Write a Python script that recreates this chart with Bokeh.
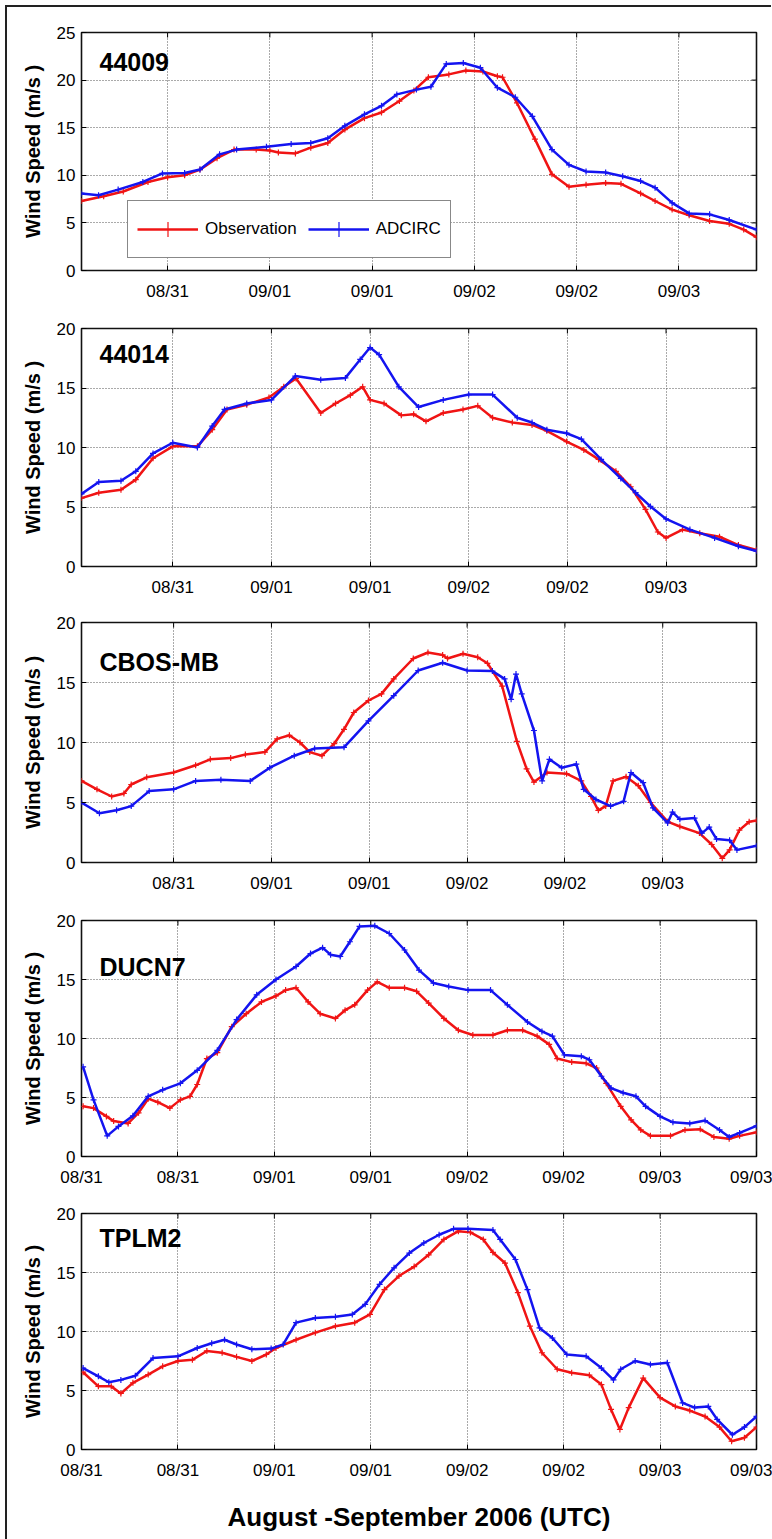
from bokeh.plotting import figure
from bokeh.models import Range1d, FixedTicker, Label, Legend, LegendItem, Div
from bokeh.layouts import column, row
from bokeh.embed import file_html
from bokeh.resources import INLINE

# x positions are hours after 08/31 00:00 UTC
TICK_HOURS = [0, 12, 24, 36, 48, 60, 72, 84]
TICK_LABELS = ["08/31", "08/31", "09/01", "09/01", "09/02", "09/02", "09/03", "09/03"]

# --- 44009 ---
OBS_44009_H = [1.9, 4.5, 6.8, 9.7, 12.0, 14.0, 15.8, 17.8, 19.8, 22.4, 24.0, 25.0, 27.0, 28.8, 30.8, 32.8,
               35.1, 37.1, 39.2, 40.9, 42.6, 45.0, 47.0, 49.0, 50.7, 51.3, 53.0, 55.1, 57.1, 59.1, 61.1,
               63.4, 65.2, 67.5, 69.2, 71.2, 73.2, 75.6, 77.9, 79.6, 81.1]
OBS_44009_V = [7.3, 7.8, 8.3, 9.3, 9.8, 10.0, 10.6, 11.8, 12.7, 12.7, 12.6, 12.4, 12.3, 12.9, 13.4, 14.8,
               16.0, 16.6, 17.8, 18.9, 20.3, 20.6, 21.0, 20.9, 20.4, 20.3, 17.6, 13.8, 10.1, 8.8, 9.0,
               9.2, 9.1, 8.1, 7.3, 6.4, 5.8, 5.2, 4.9, 4.3, 3.5]
MOD_44009_H = [1.9, 3.9, 6.2, 9.1, 11.4, 14.0, 15.8, 18.1, 20.1, 23.6, 26.5, 28.8, 30.8, 32.8, 35.1, 37.1,
               38.9, 41.2, 42.9, 44.7, 46.7, 48.7, 50.7, 52.8, 54.8, 57.1, 59.1, 61.1, 63.4, 65.4, 67.5,
               69.2, 71.2, 73.2, 75.6, 77.9, 81.1]
MOD_44009_V = [8.1, 7.9, 8.5, 9.3, 10.2, 10.25, 10.6, 12.2, 12.7, 13.0, 13.3, 13.4, 13.9, 15.2, 16.4, 17.3,
               18.5, 19.0, 19.3, 21.7, 21.8, 21.3, 19.2, 18.2, 16.2, 12.7, 11.1, 10.4, 10.3, 9.9, 9.4,
               8.7, 7.1, 6.0, 5.9, 5.3, 4.3]

# --- 44014 ---
OBS_44014_H = [0.9, 3.0, 5.7, 7.5, 9.6, 12.0, 15.0, 16.8, 18.6, 21.0, 23.7, 25.5, 27.0, 30.0, 31.8, 33.6,
               35.1, 36.0, 37.7, 39.8, 41.3, 42.8, 44.9, 47.3, 49.1, 50.9, 53.3, 55.7, 57.5, 59.9, 62.0,
               63.8, 65.9, 67.7, 69.5, 71.0, 72.0, 74.0, 76.1, 78.5, 80.8, 83.0]
OBS_44014_V = [5.75, 6.2, 6.45, 7.3, 9.1, 10.1, 10.1, 11.5, 13.2, 13.6, 14.2, 15.1, 15.8, 12.9, 13.7, 14.4,
               15.1, 14.0, 13.7, 12.7, 12.8, 12.2, 12.9, 13.2, 13.5, 12.5, 12.1, 11.9, 11.4, 10.5, 9.8,
               9.0, 8.0, 6.7, 4.8, 2.9, 2.4, 3.1, 2.8, 2.5, 1.8, 1.4]
MOD_44014_H = [0.9, 3.0, 5.7, 7.5, 9.6, 12.0, 15.0, 16.8, 18.3, 21.0, 24.0, 26.9, 30.0, 33.0, 34.8, 36.0,
               37.1, 39.5, 41.9, 44.9, 48.0, 50.9, 53.9, 55.7, 57.5, 59.9, 61.7, 64.1, 66.5, 68.3, 70.1,
               72.0, 74.9, 77.9, 80.8, 83.0]
MOD_44014_V = [6.1, 7.1, 7.2, 8.0, 9.5, 10.4, 10.0, 11.8, 13.2, 13.7, 14.0, 16.0, 15.7, 15.85, 17.4, 18.4,
               17.8, 15.1, 13.4, 14.0, 14.45, 14.45, 12.5, 12.1, 11.5, 11.2, 10.7, 9.0, 7.4, 6.2, 5.05,
               4.0, 3.1, 2.4, 1.7, 1.3]

# --- CBOS-MB ---
OBS_CBOS_H = [0.7, 2.6, 4.4, 5.9, 6.8, 8.7, 12.0, 14.7, 16.5, 19.0, 20.8, 23.2, 24.7, 26.2, 27.5, 28.7,
              30.2, 31.7, 32.9, 34.1, 35.9, 37.5, 39.0, 41.4, 43.2, 45.0, 45.6, 47.5, 49.3, 50.5, 52.3,
              54.1, 55.3, 56.2, 57.8, 60.2, 62.0, 63.2, 64.1, 65.0, 65.9, 67.5, 69.0, 70.5, 72.6, 74.1,
              76.5, 78.0, 79.3, 80.2, 81.4, 82.6, 83.5]
OBS_CBOS_V = [6.8, 6.1, 5.5, 5.75, 6.5, 7.1, 7.5, 8.1, 8.6, 8.7, 9.0, 9.2, 10.3, 10.6, 10.0, 9.2,
              8.9, 9.9, 11.1, 12.5, 13.5, 14.05, 15.3, 17.0, 17.5, 17.3, 17.0, 17.4, 17.1, 16.6, 14.7,
              10.1, 7.8, 6.7, 7.5, 7.4, 6.8, 5.5, 4.35, 4.7, 6.8, 7.15, 6.4, 5.0, 3.4, 3.0,
              2.45, 1.5, 0.35, 1.05, 2.7, 3.4, 3.5]
MOD_CBOS_H = [0.7, 2.9, 5.0, 6.8, 9.0, 12.0, 14.7, 17.8, 21.4, 23.8, 26.8, 29.3, 32.9, 35.9, 39.0, 42.0,
              45.0, 48.0, 51.1, 52.6, 53.4, 54.0, 54.7, 56.2, 57.2, 58.1, 59.6, 61.4, 62.3, 63.8, 65.6,
              67.2, 68.1, 69.6, 70.8, 72.6, 73.2, 74.1, 75.9, 76.8, 77.7, 78.6, 80.2, 81.1, 83.5]
MOD_CBOS_V = [5.0, 4.1, 4.35, 4.7, 5.95, 6.1, 6.8, 6.9, 6.8, 7.9, 8.9, 9.5, 9.6, 11.8, 13.9, 16.0,
              16.65, 16.0, 15.95, 15.3, 13.6, 15.7, 14.05, 11.0, 6.8, 8.6, 7.9, 8.2, 6.1, 5.25, 4.7,
              5.1, 7.5, 6.65, 4.55, 3.3, 4.2, 3.6, 3.7, 2.45, 2.95, 1.95, 1.85, 1.05, 1.4]

# --- DUCN7 ---
OBS_DUCN7_H = [0.2, 1.5, 3.1, 4.0, 5.8, 7.1, 8.3, 9.5, 11.0, 12.3, 13.5, 14.4, 15.6, 16.9, 18.7, 20.5,
               22.4, 24.2, 25.4, 26.7, 28.2, 29.7, 31.6, 32.8, 34.0, 35.6, 36.8, 38.3, 40.2, 41.7, 43.2,
               45.1, 46.9, 48.7, 51.2, 53.0, 54.9, 56.7, 58.2, 59.2, 61.0, 62.8, 64.1, 65.3, 67.1, 68.4,
               69.6, 70.8, 73.3, 75.1, 77.0, 78.7, 80.6, 81.9, 84.0]
OBS_DUCN7_V = [4.25, 4.1, 3.4, 3.0, 2.8, 3.7, 4.9, 4.6, 4.1, 4.8, 5.1, 6.1, 8.3, 8.8, 11.0, 12.1,
               13.1, 13.6, 14.1, 14.3, 13.1, 12.1, 11.7, 12.4, 12.85, 14.1, 14.8, 14.3, 14.3, 14.0, 13.0,
               11.7, 10.7, 10.3, 10.3, 10.7, 10.7, 10.2, 9.5, 8.3, 8.0, 7.9, 7.5, 6.2, 4.25, 3.1,
               2.25, 1.75, 1.75, 2.25, 2.3, 1.65, 1.5, 1.75, 2.05]
MOD_DUCN7_H = [0.2, 1.5, 3.2, 4.6, 6.4, 8.3, 10.1, 12.3, 14.4, 16.9, 19.3, 21.8, 24.2, 26.7, 28.5, 30.0,
               31.0, 32.2, 33.4, 34.6, 36.5, 38.3, 40.2, 42.0, 43.8, 45.7, 48.1, 50.9, 53.0, 55.5, 57.3,
               58.6, 60.1, 62.2, 63.2, 64.7, 65.9, 67.4, 69.0, 70.2, 72.0, 73.6, 75.7, 77.6, 79.4, 80.6,
               81.9, 84.0]
MOD_DUCN7_V = [7.6, 4.8, 1.75, 2.55, 3.45, 5.1, 5.65, 6.2, 7.3, 9.0, 11.6, 13.7, 15.0, 16.1, 17.2, 17.7,
               17.1, 16.95, 18.2, 19.5, 19.55, 18.9, 17.5, 15.8, 14.7, 14.4, 14.1, 14.1, 12.85, 11.4, 10.6,
               10.2, 8.6, 8.5, 8.2, 6.8, 5.8, 5.4, 5.1, 4.25, 3.4, 2.9, 2.8, 3.05, 2.25, 1.65,
               2.0, 2.6]

# --- TPLM2 ---
OBS_TPLM2_H = [0.2, 2.1, 3.7, 4.9, 6.4, 8.3, 10.1, 12.0, 13.8, 15.6, 17.5, 19.3, 21.2, 23.0, 24.2, 26.7,
               29.1, 31.6, 34.0, 35.9, 37.7, 39.5, 41.4, 43.2, 45.1, 46.9, 48.4, 50.0, 51.2, 52.7, 54.3,
               55.8, 57.3, 59.2, 61.0, 63.2, 64.7, 65.9, 67.0, 68.1, 69.9, 72.0, 73.9, 75.7, 77.6, 79.4,
               80.9, 82.5, 84.0]
OBS_TPLM2_V = [6.55, 5.35, 5.35, 4.75, 5.65, 6.35, 7.05, 7.5, 7.6, 8.35, 8.2, 7.85, 7.5, 8.05, 8.6, 9.3,
               9.9, 10.45, 10.75, 11.45, 13.55, 14.7, 15.5, 16.5, 17.8, 18.5, 18.4, 17.8, 16.7, 15.8, 13.3,
               10.45, 8.2, 6.8, 6.5, 6.3, 5.5, 3.4, 1.7, 3.55, 6.05, 4.4, 3.65, 3.3, 2.8, 1.9,
               0.7, 1.0, 1.9]
MOD_TPLM2_H = [0.2, 2.1, 3.4, 4.9, 6.7, 8.9, 12.0, 14.4, 16.2, 17.8, 19.3, 21.2, 23.6, 25.1, 26.7, 29.1,
               31.6, 33.7, 35.3, 37.1, 38.9, 40.8, 42.6, 44.5, 46.3, 48.1, 51.2, 52.1, 54.0, 55.5, 57.0,
               58.6, 60.4, 62.8, 64.7, 66.2, 67.1, 68.9, 70.8, 72.9, 74.8, 76.3, 78.0, 79.1, 81.0, 82.5,
               84.0]
MOD_TPLM2_V = [6.9, 6.2, 5.7, 5.9, 6.25, 7.75, 7.9, 8.6, 9.0, 9.3, 8.9, 8.5, 8.55, 8.9, 10.75, 11.15,
               11.25, 11.45, 12.3, 14.0, 15.4, 16.65, 17.5, 18.2, 18.7, 18.7, 18.6, 17.8, 16.1, 13.55, 10.3,
               9.45, 8.05, 7.9, 6.9, 5.9, 6.8, 7.5, 7.2, 7.35, 3.95, 3.55, 3.65, 2.55, 1.25, 1.9,
               2.8]

RED = "#f01414"
BLUE = "#1414f0"
SANS = "Liberation Sans"

FIG_W = 764
LEFT, RIGHT = 73, 16
FRAME_W = FIG_W - LEFT - RIGHT
TICK_LEN = 5  # px, inward ticks on every side of the box


def panel(station, x0, x1, ymax, obs_h, obs_v, mod_h, mod_v, height, top, bottom,
          label_dy, legend=False, xlabel=None):
    p = figure(width=FIG_W, height=height, x_range=Range1d(x0, x1), y_range=Range1d(0, ymax),
               output_backend="svg", toolbar_location=None,
               min_border_left=LEFT, min_border_right=RIGHT,
               min_border_top=top, min_border_bottom=bottom,
               background_fill_color="white", border_fill_color="white")
    frame_h = height - top - bottom
    px_per_h = FRAME_W / (x1 - x0)
    px_per_v = frame_h / ymax

    p.outline_line_color = "#111111"
    p.outline_line_width = 1.6
    p.outline_line_alpha = 1.0

    y_ticks = list(range(0, ymax + 1, 5))
    xa = p.below[0]
    ya = p.left[0]
    xa.ticker = FixedTicker(ticks=TICK_HOURS)
    xa.major_label_overrides = {h: t for h, t in zip(TICK_HOURS, TICK_LABELS)}
    ya.ticker = FixedTicker(ticks=y_ticks)

    for ax in (xa, ya):
        ax.axis_line_color = None
        ax.major_tick_in = TICK_LEN
        ax.major_tick_out = 0
        ax.major_tick_line_color = "black"
        ax.minor_tick_line_color = None
        ax.major_label_text_font = SANS
        ax.major_label_text_font_size = "17px"
        ax.major_label_text_color = "black"
    xa.major_label_standoff = 11
    ya.major_label_standoff = 6

    ya.axis_label = "Wind Speed (m/s )"
    ya.axis_label_text_font = SANS
    ya.axis_label_text_font_style = "bold"
    ya.axis_label_text_font_size = "20px"
    ya.axis_label_text_color = "black"
    ya.axis_label_standoff = 10

    if xlabel:
        xa.axis_label = xlabel
        xa.axis_label_text_font = SANS
        xa.axis_label_text_font_style = "bold"
        xa.axis_label_text_font_size = "26px"
        xa.axis_label_text_color = "black"
        xa.axis_label_standoff = 19

    p.grid.grid_line_color = "#555555"
    p.grid.grid_line_dash = "1 2"
    p.grid.grid_line_width = 1

    # inward ticks along the top and right edges of the box
    xt = [h for h in TICK_HOURS if x0 < h < x1]
    p.segment(x0=xt, y0=[ymax] * len(xt), x1=xt, y1=[ymax - TICK_LEN / px_per_v] * len(xt),
              line_color="black", line_width=1)
    yt = y_ticks[1:-1]
    p.segment(x0=[x1] * len(yt), y0=yt, x1=[x1 - TICK_LEN / px_per_h] * len(yt), y1=yt,
              line_color="black", line_width=1)

    # each series: a line with small '+' marks at the samples
    r_obs = p.line(obs_h, obs_v, line_color=RED, line_width=2.5)
    m_obs = p.scatter(obs_h, obs_v, marker="cross", size=6, line_color=RED, line_width=1.2)
    r_mod = p.line(mod_h, mod_v, line_color=BLUE, line_width=2.5)
    m_mod = p.scatter(mod_h, mod_v, marker="cross", size=6, line_color=BLUE, line_width=1.2)

    p.add_layout(Label(x=x0 + 18 / px_per_h, y=ymax - label_dy / px_per_v, text=station,
                       text_font=SANS, text_font_style="bold", text_font_size="25px",
                       text_color="black", text_baseline="middle", text_align="left"))

    if legend:
        lg = Legend(items=[LegendItem(label="Observation", renderers=[r_obs, m_obs]),
                           LegendItem(label="ADCIRC", renderers=[r_mod, m_mod])],
                    location=(46, 12), orientation="horizontal",
                    glyph_width=61, glyph_height=38, label_height=38,
                    label_text_font=SANS, label_text_font_size="17px",
                    label_text_color="black",
                    padding=9, spacing=11, label_standoff=7, margin=0,
                    border_line_color="#111111", border_line_width=1.8,
                    background_fill_color="white", background_fill_alpha=1.0)
        p.add_layout(lg)
    return p


figs = [
    panel("44009", 1.9, 81.1, 25, OBS_44009_H, OBS_44009_V, MOD_44009_H, MOD_44009_V,
          297, 25, 34, 29, legend=True),
    panel("44014", 0.9, 83.0, 20, OBS_44014_H, OBS_44014_V, MOD_44014_H, MOD_44014_V,
          295, 24, 33, 25),
    panel("CBOS-MB", 0.7, 83.5, 20, OBS_CBOS_H, OBS_CBOS_V, MOD_CBOS_H, MOD_CBOS_V,
          298, 23, 35, 39),
    panel("DUCN7", 0.0, 84.0, 20, OBS_DUCN7_H, OBS_DUCN7_V, MOD_DUCN7_H, MOD_DUCN7_V,
          294, 23, 35, 46),
    panel("TPLM2", 0.0, 84.0, 20, OBS_TPLM2_H, OBS_TPLM2_V, MOD_TPLM2_H, MOD_TPLM2_V,
          347, 22, 89, 24, xlabel="August -September 2006 (UTC)"),
]

# page frame: rule along the top and down the left side
top_rule = Div(text="", width=766, height=2, margin=(5, 0, 0, 5),
               styles={"background-color": "#222222"})
left_rule = Div(text="", width=2, height=1532, margin=(0, 0, 0, 5),
                styles={"background-color": "#222222"})
page = column(top_rule, row(left_rule, Div(text="", width=1, height=1, margin=0),
                            column(*figs, spacing=0), spacing=0), spacing=0)

open("out.html", "w").write(file_html(page, INLINE))
